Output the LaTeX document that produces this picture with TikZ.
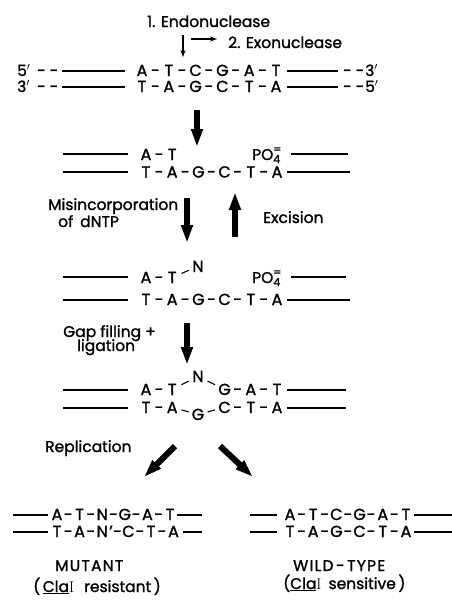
\documentclass[tikz,border=0pt]{standalone}
\usepackage{fontspec}
\newfontfamily\pop[FakeBold=1.4]{Poppins}
\newfontfamily\popw[FakeBold=1.4,LetterSpace=8]{Poppins}
\usetikzlibrary{arrows.meta,calc}
\tikzset{
 base/.style={anchor=base,inner sep=0pt,font=\pop\fontsize{16}{18}\selectfont},
 lbl/.style={anchor=base west,inner sep=0pt,font=\pop\fontsize{15.5}{18}\selectfont},
 sline/.style={line width=1.1pt},
 fat/.style={line width=6pt,-{Triangle[length=18pt,width=11pt]}},
 thinarr/.style={line width=1.1pt,-{Stealth[length=7pt,width=5pt]}},
 slant/.style={line width=1.1pt},
}
\newcommand{\strand}[5]{%
 \foreach \b [count=\i] in {#5} {\node[base] (#1\i) at ({#2+#3*(\i-1)},#4) {\b};}}
\newcommand{\hyph}[5]{%
 \foreach \i in {#5} {\node[base] (#1h\i) at ({#2+#3*(\i-0.5)},#4) {-};}}
\newcommand{\phos}{PO\rlap{\raisebox{-3pt}{\fontsize{11}{11}\selectfont 4}}\raisebox{7pt}{\fontsize{11}{11}\selectfont =}}
\begin{document}
\begin{tikzpicture}[x=1pt,y=-1pt]
\useasboundingbox[fill=white] (0,0) rectangle (452,600);
% step labels
\node[lbl] (endo) at (147,27) {1. Endonuclease};
\node[lbl] (exo) at (228,48) {2. Exonuclease};
\coordinate (cutT) at (183,35); \coordinate (cutB) at (183,57);
\coordinate (exA) at (191,39); \coordinate (exB) at (217,39);
\draw[thinarr] (cutT) -- (cutB);
\draw[thinarr] (exA) -- (exB);
% row 1
\node[lbl] (r1p) at (17,76) {5$'$};
\node[lbl] (r1d) at (37,76) {-\hspace{4pt}-};
\draw[sline] (62,71) -- (125,71);
\strand{a}{142}{26.8}{76}{A,T,C,G,A,T}
\hyph{a}{142}{26.8}{76}{1,...,5}
\draw[sline] (287,71) -- (338,71);
\node[lbl] (r1e) at (343,76) {-\hspace{4pt}-};
\node[lbl] (r1q) at (365,76) {3$'$};
% row 2
\node[lbl] (r2p) at (17,92) {3$'$};
\node[lbl] (r2d) at (37,92) {-\hspace{4pt}-};
\draw[sline] (62,87) -- (125,87);
\strand{b}{142}{26.8}{92}{T,A,G,C,T,A}
\hyph{b}{142}{26.8}{92}{1,...,5}
\draw[sline] (287,87) -- (338,87);
\node[lbl] (r2e) at (343,92) {-\hspace{4pt}-};
\node[lbl] (r2q) at (365,92) {5$'$};
% arrow 1
\coordinate (f1a) at (197,110); \coordinate (f1b) at (197,147);
\draw[fat] (f1a) -- (f1b);
% row 3
\draw[sline] (63,154) -- (128,154);
\strand{c}{146}{26.2}{160}{A,T}
\hyph{c}{146}{26.2}{160}{1}
\node[lbl] (p1) at (252,160) {\phos};
\draw[sline] (291,154) -- (348,154);
% row 4
\draw[sline] (63,172) -- (128,172);
\strand{d}{146}{26.2}{177.5}{T,A,G,C,T,A}
\hyph{d}{146}{26.2}{177.5}{1,...,5}
\draw[sline] (287,172) -- (350,172);
% misincorporation / excision
\node[lbl] (mis1) at (48,210) {Misincorporation};
\node[lbl] (mis2) at (58,227) {of\hspace{7pt}dNTP};
\node[lbl] (exc) at (263,223) {Excision};
\coordinate (f2a) at (187,198); \coordinate (f2b) at (187,243);
\coordinate (f3a) at (235,237); \coordinate (f3b) at (235,192);
\draw[fat] (f2a) -- (f2b);
\draw[fat] (f3a) -- (f3b);
% row 5
\draw[sline] (63,277) -- (128,277);
\strand{e}{146}{26.2}{283}{A,T}
\hyph{e}{146}{26.2}{283}{1}
\node[base] (eN) at (198,272) {N};
\draw[slant] ($(e2)!0.36!(eN)$) -- ($(e2)!0.64!(eN)$);
\node[lbl] (p2) at (252,283) {\phos};
\draw[sline] (291,277) -- (346,277);
% row 6
\draw[sline] (63,300) -- (128,300);
\strand{f}{146}{26.2}{305}{T,A,G,C,T,A}
\hyph{f}{146}{26.2}{305}{1,...,5}
\draw[sline] (287,300) -- (350,300);
% gap filling
\node[lbl] (gap1) at (63,337) {Gap filling +};
\node[lbl] (gap2) at (77,351) {ligation};
\coordinate (f4a) at (187,323); \coordinate (f4b) at (187,365);
\draw[fat] (f4a) -- (f4b);
% row 7
\draw[sline] (63,390) -- (128,390);
\node[base] (g1) at (146,395) {A};
\node[base] (g2) at (172.2,395) {T};
\node[base] (gN) at (198,382) {N};
\node[base] (g4) at (224.6,395) {G};
\node[base] (g5) at (250.8,395) {A};
\node[base] (g6) at (277,395) {T};
\node[base] (gh1) at (159.1,395) {-};
\node[base] (gh4) at (237.7,395) {-};
\node[base] (gh5) at (263.9,395) {-};
\draw[slant] ($(g2)!0.36!(gN)$) -- ($(g2)!0.64!(gN)$);
\draw[slant] ($(gN)!0.36!(g4)$) -- ($(gN)!0.64!(g4)$);
\draw[sline] (287,390) -- (346,390);
% row 8
\draw[sline] (63,408) -- (128,408);
\node[base] (h1) at (146,413) {T};
\node[base] (h2) at (172.2,413) {A};
\node[base] (hG) at (198,420) {G};
\node[base] (h4) at (224.6,413) {C};
\node[base] (h5) at (250.8,413) {T};
\node[base] (h6) at (277,413) {A};
\node[base] (hh1) at (159.1,413) {-};
\node[base] (hh4) at (237.7,413) {-};
\node[base] (hh5) at (263.9,413) {-};
\draw[slant] ($(h2)!0.36!(hG)$) -- ($(h2)!0.64!(hG)$);
\draw[slant] ($(hG)!0.36!(h4)$) -- ($(hG)!0.64!(h4)$);
\draw[sline] (287,408) -- (346,408);
% replication
\node[lbl] (rep) at (45,452) {Replication};
\coordinate (f5a) at (175,446); \coordinate (f5b) at (144,477);
\coordinate (f6a) at (220,446); \coordinate (f6b) at (253,477);
\draw[fat] (f5a) -- (f5b);
\draw[fat] (f6a) -- (f6b);
% mutant
\draw[sline] (13,515) -- (48,515);
\strand{m}{57}{22.6}{520}{A,T,N,G,A,T}
\hyph{m}{57}{22.6}{520}{1,...,5}
\draw[sline] (177,515) -- (202,515);
\draw[sline] (13,532) -- (48,532);
\node[base] (n1) at (57,537) {T};
\node[base] (nh1) at (68.3,537) {-};
\node[base] (n2) at (79.6,537) {A};
\node[base] (nh2) at (90.9,537) {-};
\node[base] (n3) at (102.2,537) {N};
\node[base] (nq) at (111,537) {’};
\node[base] (nh3) at (117.5,537) {-};
\node[base] (n4) at (128.5,537) {C};
\node[base] (nh4) at (140,537) {-};
\node[base] (n5) at (151,537) {T};
\node[base] (nh5) at (162,537) {-};
\node[base] (n6) at (173.5,537) {A};
\draw[sline] (183,532) -- (202,532);
\node[anchor=base west,inner sep=0pt,font=\popw\fontsize{15.5}{18}\selectfont] (mut) at (55,571) {MUTANT};
\node[lbl] (mutc) at (33,592) {(\,\underline{Cla}{\rmfamily I}\hspace{10pt}resistant\,)};
% wild type
\draw[sline] (250,515) -- (277,515);
\strand{w}{290}{23.2}{520}{A,T,C,G,A,T}
\hyph{w}{290}{23.2}{520}{1,...,5}
\draw[sline] (414,515) -- (452,515);
\draw[sline] (250,532) -- (277,532);
\strand{v}{290}{23.2}{537}{T,A,G,C,T,A}
\hyph{v}{290}{23.2}{537}{1,...,5}
\draw[sline] (414,532) -- (452,532);
\node[anchor=base west,inner sep=0pt,font=\popw\fontsize{15.5}{18}\selectfont] (wt) at (293,571) {WILD\,-\,TYPE};
\node[lbl] (wtc) at (283,589) {(\underline{Cla}{\rmfamily I}\hspace{7pt}sensitive\,)};
\end{tikzpicture}
\end{document}
